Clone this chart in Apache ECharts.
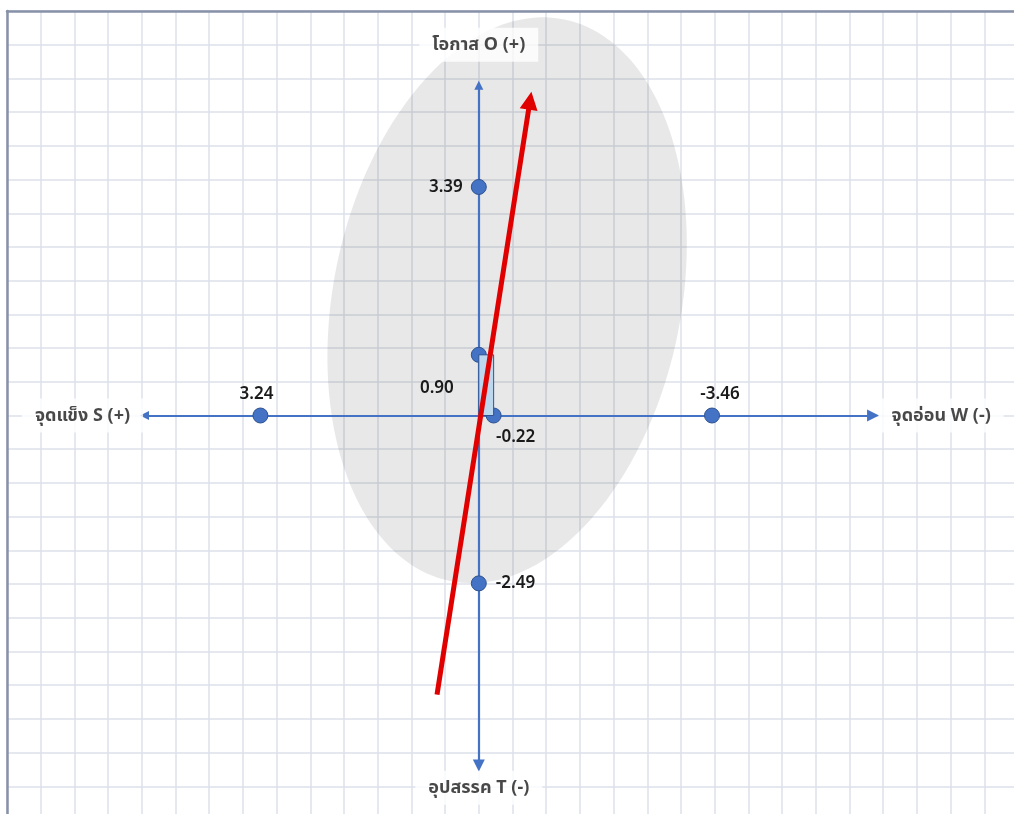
<!DOCTYPE html>
<html><head><meta charset="utf-8">
<script src="https://cdn.jsdelivr.net/npm/echarts@6/dist/echarts.min.js"></script>
<style>html,body{margin:0;padding:0;background:#fff}#chart{width:1014px;height:814px}</style>
</head><body><div id="chart"></div>
<script>
// ---- data ----
const quadrantNames = ['S', 'W', 'O', 'T'];
const quadrantScores = [3.24, -3.46, 3.39, -2.49];
const quadrantTitles = ['จุดแข็ง S (+)', 'จุดอ่อน W (-)', 'โอกาส O (+)', 'อุปสรรค T (-)'];
const titleAnchors = [5.88, -6.86, 5.5, -5.52];
const netPoint = [-0.22, 0.90];            // [S+W, O+T]
const axisArrowH = [4.96, -5.85];
const axisArrowV = [4.90, -5.19];
const trendStart = [0.62, -4.14];
const trendEnd = [-0.76, 4.67];
const zoneCenter = [-0.42, 1.71];
const zoneRadii = [2.58, 4.25];
const zoneTilt = [11.5];
const gridStep = 0.5;
const xRange = [-8, 7];
const yRange = [-6, 6];

// ---- build ----
const FONT = "'Noto Sans', 'Noto Sans Thai', 'DejaVu Sans', sans-serif";
const labelPos = { S: ['top', [-4, 0]], W: ['top', [8, 0]], O: ['left', [-3, 0]], T: ['right', [4, 0]] };
const pointData = quadrantNames.map((n, i) => {
  const isX = (n === 'S' || n === 'W');
  return {
    value: isX ? [quadrantScores[i], 0] : [0, quadrantScores[i]],
    label: { formatter: quadrantScores[i].toFixed(2), position: labelPos[n][0], offset: labelPos[n][1] }
  };
});
pointData.push({ value: [0, netPoint[1]], label: { formatter: netPoint[1].toFixed(2), position: 'left', offset: [-12, 33] } });
pointData.push({ value: [netPoint[0], 0], label: { formatter: netPoint[0].toFixed(2), position: 'bottom', offset: [22, 0] } });

const titleData = quadrantTitles.map((t, i) => ({
  value: i < 2 ? [titleAnchors[i], 0] : [0, titleAnchors[i]],
  label: { formatter: t }
}));

const chart = echarts.init(document.getElementById('chart'));
chart.setOption({
  animation: false,
  backgroundColor: '#fff',
  grid: { left: 7, top: 11, width: 1011, height: 809, show: false, outerBoundsMode: 'none', containLabel: false },
  xAxis: {
    type: 'value', min: xRange[0], max: xRange[1], interval: gridStep, inverse: true, position: 'top',
    axisLine: { show: true, onZero: false, lineStyle: { color: '#8791a8', width: 2.5 } },
    axisTick: { show: false }, axisLabel: { show: false },
    splitLine: { show: true, lineStyle: { color: '#dde0e8', width: 1.5 } }
  },
  yAxis: {
    type: 'value', min: yRange[0], max: yRange[1], interval: gridStep, position: 'left',
    axisLine: { show: true, onZero: false, lineStyle: { color: '#8791a8', width: 2.5 } },
    axisTick: { show: false }, axisLabel: { show: false },
    splitLine: { show: true, lineStyle: { color: '#dde0e8', width: 1.5 } }
  },
  series: [
    {
      type: 'custom', z: 1, silent: true,
      data: [[zoneCenter[0], zoneCenter[1], zoneRadii[0], zoneRadii[1], zoneTilt[0]]],
      renderItem: function (params, api) {
        const c = api.coord([api.value(0), api.value(1)]);
        const s = api.size([api.value(2), api.value(3)]);
        const b = Math.abs(s[0]), a = Math.abs(s[1]);
        const th = api.value(4) * Math.PI / 180;
        const pts = [];
        for (let i = 0; i < 180; i++) {
          const t = i / 180 * 2 * Math.PI;
          pts.push([c[0] + b * Math.cos(t) * Math.cos(th) + a * Math.sin(t) * Math.sin(th),
                    c[1] + b * Math.cos(t) * Math.sin(th) - a * Math.sin(t) * Math.cos(th)]);
        }
        return { type: 'polygon', shape: { points: pts }, style: { fill: 'rgba(0,0,0,0.09)' } };
      }
    },
    {
      type: 'lines', coordinateSystem: 'cartesian2d', z: 2, silent: true,
      symbol: ['triangle', 'triangle'], symbolSize: [9, 12],
      lineStyle: { color: '#4472C4', width: 2.2, opacity: 1 },
      data: [
        { coords: [[axisArrowH[0], 0], [axisArrowH[1], 0]] },
        { coords: [[0, axisArrowV[0]], [0, axisArrowV[1]]] }
      ]
    },
    {
      type: 'scatter', z: 3, symbolSize: 15, silent: true,
      itemStyle: { color: '#4472C4', borderColor: '#2F528F', borderWidth: 1, opacity: 1 },
      label: { show: true, color: '#1a1a1a', fontSize: 17, fontWeight: 600, fontFamily: FONT },
      data: pointData
    },
    {
      type: 'custom', z: 4, silent: true,
      data: [[netPoint[0], netPoint[1]]],
      renderItem: function (params, api) {
        const p1 = api.coord([0, api.value(1)]);
        const p2 = api.coord([api.value(0), 0]);
        return {
          type: 'rect',
          shape: { x: Math.min(p1[0], p2[0]), y: Math.min(p1[1], p2[1]), width: Math.abs(p2[0] - p1[0]), height: Math.abs(p2[1] - p1[1]) },
          style: { fill: '#BDD7EE', stroke: '#2F528F', lineWidth: 1 }
        };
      }
    },
    {
      type: 'lines', coordinateSystem: 'cartesian2d', z: 5, silent: true,
      symbol: ['none', 'triangle'], symbolSize: [15, 18],
      lineStyle: { color: '#E00000', width: 5, opacity: 1 },
      data: [{ coords: [trendStart, trendEnd] }]
    },
    {
      type: 'scatter', z: 6, symbolSize: 2, silent: true,
      itemStyle: { color: 'rgba(0,0,0,0)' },
      label: {
        show: true, position: 'inside', color: '#1a1a1a', fontSize: 18, fontWeight: 'bold', fontFamily: FONT,
        backgroundColor: '#ffffff', padding: [8, 13]
      },
      data: titleData
    }
  ]
});
</script></body></html>
